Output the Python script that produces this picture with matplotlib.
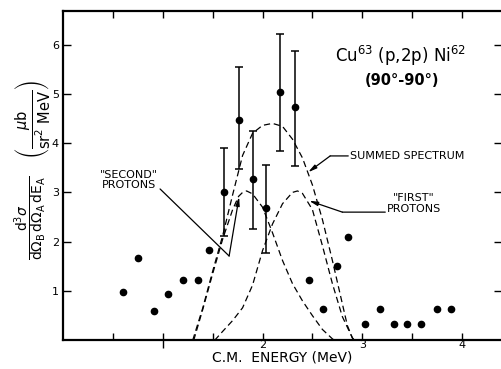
import matplotlib
matplotlib.use("Agg")
import matplotlib.pyplot as plt

plt.rcParams['font.family'] = ['DejaVu Sans']
plt.rcParams['mathtext.fontset'] = 'dejavusans'
plt.rcParams['mathtext.default'] = 'regular'

# --- data ---
err_x = [1.61, 1.76, 1.90, 2.035, 2.17, 2.325]
err_y = [3.00, 4.47, 3.28, 2.69, 5.04, 4.73]
err_lo = [0.88, 1.00, 1.02, 0.91, 1.19, 1.19]
err_hi = [0.91, 1.08, 0.97, 0.87, 1.17, 1.14]

pts_x = [0.605, 0.755, 0.91, 1.05, 1.20, 1.35, 1.465, 2.47, 2.605, 2.745,
         2.86, 3.03, 3.18, 3.32, 3.45, 3.59, 3.75, 3.89]
pts_y = [0.97, 1.67, 0.60, 0.93, 1.22, 1.22, 1.83, 1.23, 0.63, 1.50,
         2.09, 0.34, 0.64, 0.34, 0.34, 0.34, 0.64, 0.64]

summed_x = [1.30, 1.40, 1.50, 1.60, 1.70, 1.80, 1.90, 2.00, 2.10, 2.20, 2.30,
            2.40, 2.50, 2.60, 2.70, 2.75, 2.80, 2.85, 2.90, 2.92]
summed_y = [0.0, 0.65, 1.40, 2.12, 2.95, 3.75, 4.20, 4.36, 4.40, 4.34, 4.08,
            3.70, 3.15, 2.45, 1.62, 1.18, 0.74, 0.30, 0.05, 0.0]

second_x = [1.31, 1.40, 1.50, 1.60, 1.70, 1.76, 1.80, 1.84, 1.90, 2.00, 2.10,
            2.20, 2.30, 2.40, 2.50, 2.60, 2.70, 2.72]
second_y = [0.0, 0.62, 1.35, 2.05, 2.65, 2.92, 3.00, 3.03, 2.97, 2.70, 2.18,
            1.62, 1.15, 0.80, 0.50, 0.22, 0.03, 0.0]

first_x = [1.52, 1.60, 1.70, 1.80, 1.90, 2.00, 2.10, 2.20, 2.30, 2.35, 2.40,
           2.50, 2.60, 2.70, 2.80, 2.90, 2.92]
first_y = [0.0, 0.18, 0.40, 0.66, 1.12, 1.82, 2.36, 2.77, 3.00, 3.03, 2.98,
           2.65, 1.92, 1.15, 0.48, 0.05, 0.0]

y_ticks = [1, 2, 3, 4, 5, 6]
x_ticks = [2, 3, 4]

# --- figure ---
fig = plt.figure(figsize=(5.02, 3.69), dpi=100)
ax = fig.add_axes([63/502, 1-340.3/369, 1-63/502, (340.3-11)/369])
ax.set_xlim(0, 4.40)
ax.set_ylim(0, 6.68)

dash = (0, (5, 3))
ax.plot(summed_x, summed_y, color='black', lw=0.9, ls=dash)
ax.plot(second_x, second_y, color='black', lw=0.9, ls=dash)
ax.plot(first_x, first_y, color='black', lw=0.9, ls=dash)

ax.errorbar(err_x, err_y, yerr=[err_lo, err_hi], fmt='o', color='black',
            ms=4.5, elinewidth=1.1, capsize=2.9, capthick=1.1)
ax.plot(pts_x, pts_y, 'o', color='black', ms=4.5)

# spines & ticks
for s in ['left', 'bottom', 'top']:
    ax.spines[s].set_linewidth(1.6)
ax.spines['right'].set_visible(False)

ax.set_yticks(y_ticks)
ax.set_yticklabels([str(v) for v in y_ticks], fontsize=8)
ax.set_xticks(x_ticks)
ax.set_xticklabels([str(v) for v in x_ticks], fontsize=8)
ax.set_xticks([0.5, 1, 1.5, 2.5, 3.5], minor=True)
ax.tick_params(axis='both', which='both', direction='in', width=1.0,
               top=True, right=True, labeltop=False, labelright=False)
ax.tick_params(axis='y', which='major', length=6, pad=3)
ax.tick_params(axis='x', which='major', length=5, pad=0)
ax.tick_params(axis='x', which='minor', length=5)
ax.tick_params(axis='y', which='minor', length=0)

sec = ax.secondary_xaxis('bottom')
sec.set_xticks([1])
sec.set_xticklabels([''])
sec.tick_params(direction='out', length=6, width=1.0)
sec.spines['bottom'].set_visible(False)

ax.set_xlabel('C.M.  ENERGY (MeV)', fontsize=10, labelpad=0)

# y label: fraction and units
fig.text(0.062, 0.41, r'$\dfrac{d^3\mathit{\sigma}}{d\Omega_B\, d\Omega_A\, dE_A}$',
         rotation=90, ha='center', va='center', fontsize=10)
fig.text(0.064, 0.675, r'$\left(\dfrac{\mathit{\mu} b}{sr^2\ MeV}\right)$',
         rotation=90, ha='center', va='center', fontsize=10.5)

# title text
ax.text(3.38, 5.77, r'Cu$^{63}$ (p,2p) Ni$^{62}$', ha='center', va='center',
        fontsize=12)
ax.text(3.40, 5.28, '(90°-90°)', ha='center', va='center', fontsize=10.5,
        fontweight='bold')

# annotations
ax.text(0.662, 3.25, '"SECOND"\nPROTONS', ha='center', va='center',
        fontsize=8, linespacing=1.1)
ax.annotate('', xy=(1.665, 1.71), xytext=(0.973, 3.07),
            arrowprops=dict(arrowstyle='-', lw=0.9, color='black',
                            shrinkA=0, shrinkB=0))
ax.annotate('', xy=(1.765, 2.91), xytext=(1.665, 1.71),
            arrowprops=dict(arrowstyle='-|>,head_length=0.5,head_width=0.12',
                            lw=0.9, color='black', shrinkA=0, shrinkB=0))

ax.text(2.88, 3.74, 'SUMMED SPECTRUM', ha='left', va='center', fontsize=8)
ax.annotate('', xy=(2.678, 3.74), xytext=(2.859, 3.74),
            arrowprops=dict(arrowstyle='-', lw=0.9, color='black',
                            shrinkA=0, shrinkB=0))
ax.annotate('', xy=(2.457, 3.41), xytext=(2.678, 3.74),
            arrowprops=dict(arrowstyle='-|>,head_length=0.5,head_width=0.12',
                            lw=0.9, color='black', shrinkA=0, shrinkB=0))

ax.text(3.52, 2.775, '"FIRST"\nPROTONS', ha='center', va='center',
        fontsize=8, linespacing=1.1)
ax.annotate('', xy=(2.80, 2.60), xytext=(3.23, 2.60),
            arrowprops=dict(arrowstyle='-', lw=0.9, color='black',
                            shrinkA=0, shrinkB=0))
ax.annotate('', xy=(2.467, 2.83), xytext=(2.80, 2.60),
            arrowprops=dict(arrowstyle='-|>,head_length=0.5,head_width=0.12',
                            lw=0.9, color='black', shrinkA=0, shrinkB=0))

fig.savefig('out.png', dpi=100)
